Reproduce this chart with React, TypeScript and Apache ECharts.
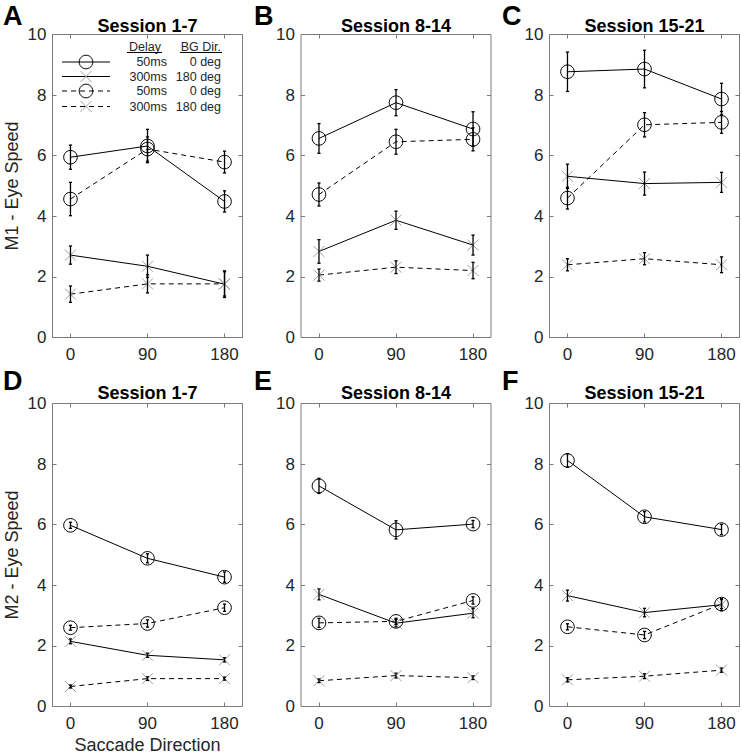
import React, { useEffect, useRef } from 'react';
import * as echarts from 'echarts';

// ---------- data ----------
const directions = [0, 90, 180];
const xTickValues = [0, 90, 180];
const panelLetters = ['A', 'B', 'C', 'D', 'E', 'F'];
const panelTitles = ['Session 1-7', 'Session 8-14', 'Session 15-21', 'Session 1-7', 'Session 8-14', 'Session 15-21'];
const rowLabels = ['M1 - Eye Speed', 'M2 - Eye Speed'];
const xAxisTitle = 'Saccade Direction';
const legendHeader = ['Delay', 'BG Dir.'];
const legendDelay = ['50ms', '300ms', '50ms', '300ms'];
const legendBgDir = ['0 deg', '180 deg', '0 deg', '180 deg'];

// per panel (A..F), values at 0, 90, 180 deg
const solidCircleMean = [
  [5.95, 6.32, 4.49], [6.57, 7.75, 6.88], [8.77, 8.86, 7.87],
  [5.98, 4.89, 4.27], [7.28, 5.83, 6.02], [8.12, 6.26, 5.84],
];
const solidCircleErr = [
  [0.4, 0.55, 0.35], [0.49, 0.43, 0.57], [0.65, 0.62, 0.52],
  [0.1, 0.15, 0.17], [0.25, 0.3, 0.12], [0.22, 0.17, 0.17],
];
const solidCrossMean = [
  [2.72, 2.35, 1.76], [2.84, 3.87, 3.05], [5.32, 5.08, 5.12],
  [2.15, 1.69, 1.54], [3.7, 2.75, 3.08], [3.66, 3.1, 3.36],
];
const solidCrossErr = [
  [0.3, 0.37, 0.44], [0.39, 0.3, 0.33], [0.4, 0.38, 0.33],
  [0.08, 0.07, 0.07], [0.18, 0.12, 0.15], [0.18, 0.14, 0.2],
];
const dashedCircleMean = [
  [4.57, 6.22, 5.79], [4.72, 6.46, 6.54], [4.6, 7.02, 7.1],
  [2.6, 2.74, 3.26], [2.76, 2.81, 3.5], [2.63, 2.36, 3.38],
];
const dashedCircleErr = [
  [0.55, 0.4, 0.36], [0.38, 0.41, 0.38], [0.36, 0.4, 0.36],
  [0.08, 0.12, 0.12], [0.15, 0.1, 0.12], [0.1, 0.12, 0.15],
];
const dashedCrossMean = [
  [1.43, 1.77, 1.77], [2.06, 2.32, 2.21], [2.4, 2.6, 2.4],
  [0.66, 0.92, 0.92], [0.85, 1.02, 0.95], [0.88, 1.0, 1.2],
];
const dashedCrossErr = [
  [0.27, 0.3, 0.4], [0.2, 0.21, 0.27], [0.2, 0.2, 0.26],
  [0.05, 0.06, 0.05], [0.06, 0.08, 0.06], [0.07, 0.08, 0.07],
];

// ---------- layout / style ----------
const W = 742;
const H = 754;
const colLeft = [52.5, 301, 549.5];
const gridW = 190;
const rowTop = [34.5, 403.5];
const gridH = 303;
const FONT = '"Liberation Sans", Arial, Helvetica, sans-serif';
const TEXT_COLOR = '#262626';
const BOX_COLOR = '#7a7a7a';
const CROSS_COLOR = '#a0a0a0';
const DASH = [5, 4];

type Cond = { mean: number[][]; err: number[][]; dashed: boolean; marker: 'circle' | 'x' };
const conditions: Cond[] = [
  { mean: solidCircleMean, err: solidCircleErr, dashed: false, marker: 'circle' },
  { mean: solidCrossMean, err: solidCrossErr, dashed: false, marker: 'x' },
  { mean: dashedCircleMean, err: dashedCircleErr, dashed: true, marker: 'circle' },
  { mean: dashedCrossMean, err: dashedCrossErr, dashed: true, marker: 'x' },
];

function markerEls(marker: 'circle' | 'x', cx: number, cy: number): any[] {
  if (marker === 'circle') {
    return [{ type: 'circle', shape: { cx, cy, r: 6.8 }, style: { fill: 'none', stroke: '#000', lineWidth: 1 } }];
  }
  const s = 5.5;
  return [
    { type: 'line', shape: { x1: cx - s, y1: cy - s, x2: cx + s, y2: cy + s }, style: { stroke: CROSS_COLOR, lineWidth: 1 } },
    { type: 'line', shape: { x1: cx - s, y1: cy + s, x2: cx + s, y2: cy - s }, style: { stroke: CROSS_COLOR, lineWidth: 1 } },
  ];
}

function makeRender(marker: 'circle' | 'x') {
  return (_params: any, api: any) => {
    const x = api.value(0);
    const y = api.value(1);
    const e = api.value(2);
    const c = api.coord([x, y]);
    const t = api.coord([x, y + e]);
    const b = api.coord([x, y - e]);
    const cap = 1.6;
    const st = { stroke: '#000', lineWidth: 1.3 };
    const children: any[] = [
      ...markerEls(marker, c[0], c[1]),
      { type: 'line', shape: { x1: c[0], y1: t[1], x2: c[0], y2: b[1] }, style: st },
      { type: 'line', shape: { x1: c[0] - cap, y1: t[1], x2: c[0] + cap, y2: t[1] }, style: st },
      { type: 'line', shape: { x1: c[0] - cap, y1: b[1], x2: c[0] + cap, y2: b[1] }, style: st },
    ];
    return { type: 'group', children };
  };
}

function buildOption() {
  const grids: any[] = [];
  const xAxes: any[] = [];
  const yAxes: any[] = [];
  const series: any[] = [];
  const graphics: any[] = [];

  for (let p = 0; p < 6; p++) {
    const row = Math.floor(p / 3);
    const col = p % 3;
    const left = colLeft[col];
    const top = rowTop[row];
    grids.push({ left, top, width: gridW, height: gridH, show: true, borderColor: BOX_COLOR, borderWidth: 1, backgroundColor: 'transparent' });

    const tickStyle = { show: true, inside: true, length: 4, lineStyle: { color: BOX_COLOR, width: 1 } };
    xAxes.push({
      type: 'value', gridIndex: p, position: 'bottom', min: -21, max: 201,
      axisLine: { show: false, onZero: false },
      axisTick: { ...tickStyle, customValues: xTickValues },
      axisLabel: { show: true, customValues: xTickValues, color: TEXT_COLOR, fontSize: 17, fontFamily: FONT, margin: 8 },
      splitLine: { show: false },
    });
    xAxes.push({
      type: 'value', gridIndex: p, position: 'top', min: -21, max: 201,
      axisLine: { show: false, onZero: false },
      axisTick: { ...tickStyle, customValues: xTickValues },
      axisLabel: { show: false },
      splitLine: { show: false },
    });
    yAxes.push({
      type: 'value', gridIndex: p, position: 'left', min: 0, max: 10, interval: 2,
      axisLine: { show: false, onZero: false },
      axisTick: tickStyle,
      axisLabel: { show: true, color: TEXT_COLOR, fontSize: 17, fontFamily: FONT, margin: 6 },
      splitLine: { show: false },
    });
    yAxes.push({
      type: 'value', gridIndex: p, position: 'right', min: 0, max: 10, interval: 2,
      axisLine: { show: false, onZero: false },
      axisTick: tickStyle,
      axisLabel: { show: false },
      splitLine: { show: false },
    });

    conditions.forEach((cond, ci) => {
      const lineData = directions.map((d, i) => [d, cond.mean[p][i]]);
      series.push({
        type: 'line', name: `p${p}c${ci}`, xAxisIndex: 2 * p, yAxisIndex: 2 * p,
        data: lineData, showSymbol: false, symbol: 'none',
        lineStyle: { color: '#000', width: 1, type: cond.dashed ? DASH : 'solid' },
        z: 2, silent: true,
      });
      series.push({
        type: 'custom', name: `p${p}c${ci}e`, xAxisIndex: 2 * p, yAxisIndex: 2 * p,
        data: directions.map((d, i) => [d, cond.mean[p][i], cond.err[p][i]]),
        renderItem: makeRender(cond.marker), clip: false, z: 3, silent: true,
      });
    });

    graphics.push({
      type: 'text', x: left + gridW / 2, y: row === 0 ? 25.5 : 392.5,
      style: { text: panelTitles[p], textAlign: 'center', textVerticalAlign: 'middle', font: `bold 18px ${FONT}`, fill: '#000' },
    });
    const letterX = [3, 254, 502][col];
    graphics.push({
      type: 'text', x: letterX, y: row === 0 ? 15.5 : 380.5,
      style: { text: panelLetters[p], textAlign: 'left', textVerticalAlign: 'middle', font: `bold 27px ${FONT}`, fill: '#000' },
    });
  }

  rowLabels.forEach((lab, r) => {
    graphics.push({
      type: 'text', x: 12, y: rowTop[r] + gridH / 2, rotation: Math.PI / 2,
      style: { text: lab, textAlign: 'center', textVerticalAlign: 'middle', font: `18px ${FONT}`, fill: TEXT_COLOR },
    });
  });
  graphics.push({
    type: 'text', x: colLeft[0] + gridW / 2, y: 744.5,
    style: { text: xAxisTitle, textAlign: 'center', textVerticalAlign: 'middle', font: `18px ${FONT}`, fill: TEXT_COLOR },
  });

  // legend in panel A
  const lgFont = `12.5px ${FONT}`;
  graphics.push({ type: 'text', x: 145, y: 46.5, style: { text: legendHeader[0], textAlign: 'center', textVerticalAlign: 'middle', font: lgFont, fill: TEXT_COLOR } });
  graphics.push({ type: 'text', x: 221, y: 46.5, style: { text: legendHeader[1], textAlign: 'right', textVerticalAlign: 'middle', font: lgFont, fill: TEXT_COLOR } });
  graphics.push({ type: 'line', shape: { x1: 127, y1: 52.5, x2: 162, y2: 52.5 }, style: { stroke: '#000', lineWidth: 1 } });
  graphics.push({ type: 'line', shape: { x1: 180, y1: 52.5, x2: 222, y2: 52.5 }, style: { stroke: '#000', lineWidth: 1 } });
  const rowY = [62, 76.5, 91, 106.5];
  conditions.forEach((cond, i) => {
    const y = rowY[i];
    graphics.push({ type: 'line', shape: { x1: 62, y1: y, x2: 110, y2: y }, style: { stroke: '#000', lineWidth: 1, lineDash: cond.dashed ? DASH : null } });
    markerEls(cond.marker, 86, y).forEach((el) => graphics.push(el));
    graphics.push({ type: 'text', x: 167, y, style: { text: legendDelay[i], textAlign: 'right', textVerticalAlign: 'middle', font: lgFont, fill: TEXT_COLOR } });
    graphics.push({ type: 'text', x: 221, y, style: { text: legendBgDir[i], textAlign: 'right', textVerticalAlign: 'middle', font: lgFont, fill: TEXT_COLOR } });
  });

  return {
    animation: false,
    backgroundColor: '#fff',
    textStyle: { fontFamily: FONT },
    grid: grids,
    xAxis: xAxes,
    yAxis: yAxes,
    series,
    graphic: { elements: graphics },
  };
}

export default function App() {
  const ref = useRef<HTMLDivElement>(null);
  useEffect(() => {
    document.body.style.margin = '0';
    if (!ref.current) return;
    const chart = echarts.init(ref.current, undefined, { renderer: 'svg', width: W, height: H });
    chart.setOption(buildOption() as any);
    return () => chart.dispose();
  }, []);
  return <div ref={ref} style={{ width: W, height: H, position: 'absolute', left: 0, top: 0 }} />;
}
